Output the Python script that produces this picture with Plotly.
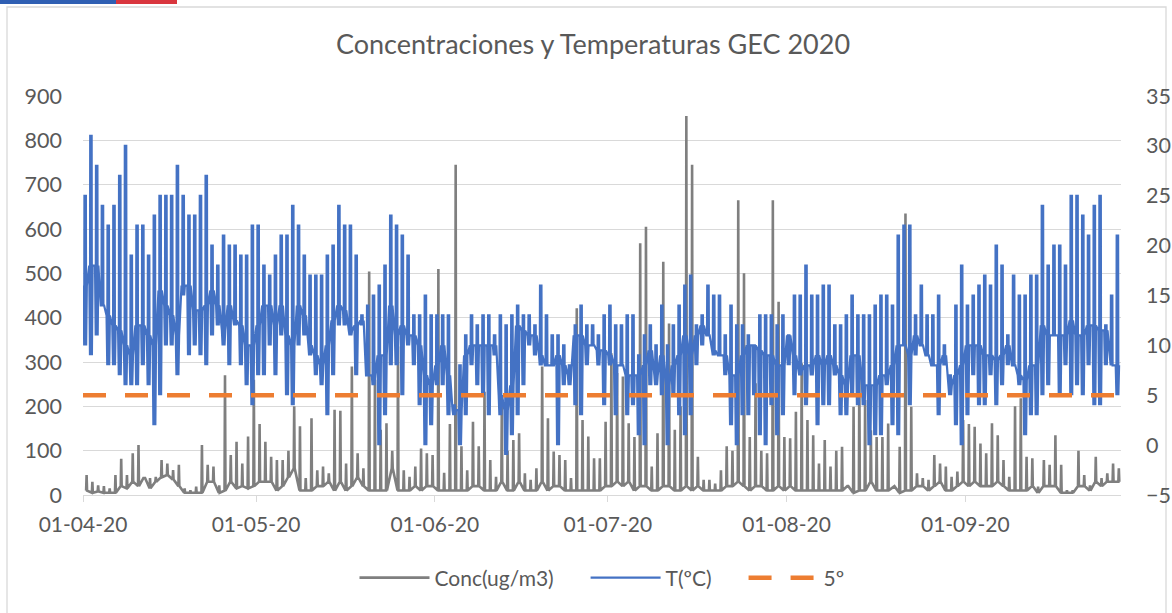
import pandas as pd
import plotly.graph_objects as go

# ---------------- data ----------------
start_date = "2020-04-01"
n_days = 180

# daily maximum temperature (ºC)
t_max = [25, 31, 28, 24, 22, 24, 27, 30, 19, 22, 22, 19, 23, 25, 25, 25, 28, 25, 23, 23, 25, 27, 20, 18, 21, 20, 20, 19, 19, 22,
         22, 18, 17, 19, 21, 21, 24, 22, 19, 17, 17, 17, 19, 20, 24, 22, 22, 19, 13, 14, 15, 16, 18, 23, 22, 21, 19, 13, 13, 15, 13,
         13, 13, 13, 4, 8, 11, 13, 12, 13, 13, 11, 13, 12, 13, 14, 13, 13, 12, 16, 13, 11, 11, 10, 8, 12, 14, 12, 12, 11, 13,
         14, 12, 12, 13, 13, 9, 11, 12, 10, 14, 10, 12, 14, 16, 17, 12, 13, 16, 15, 15, 11, 14, 12, 12, 11, 10, 13, 13, 13, 12, 13,
         11, 15, 15, 18, 15, 15, 16, 16, 12, 12, 13, 15, 13, 13, 13, 14, 15, 15, 14, 21, 22, 22, 13, 16, 13, 13, 15, 10, 7, 14, 18,
         14, 15, 16, 17, 16, 20, 18, 11, 17, 15, 15, 17, 17, 24, 18, 20, 20, 18, 25, 25, 23, 21, 24, 25, 12, 15, 21]

# daily minimum temperature (ºC)
t_min = [10, 9, 11, 14, 8, 8, 7, 6, 6, 6, 8, 6, 2, 5, 10, 10, 7, 15, 9, 10, 9, 8, 11, 12, 10, 8, 12, 8, 6, 4,
         7, 7, 10, 7, 11, 5, 4, 10, 11, 9, 7, 6, 3, 7, 12, 12, 11, 7, 12, 7, 6, 0, 3, 8, 8, 5, 10, 8, 4, 0, 2,
         6, 6, 3, 3, 0, 3, 8, 6, 5, 3, 9, 3, -1, 1, 3, 6, 10, 9, 8, 8, 8, 0, 6, 6, 4, 3, 8, 10, 8, 4,
         8, 3, 8, 3, 4, 1, 0, 6, 6, 5, 0, 5, 3, 1, 3, 8, 10, 11, 9, 9, 7, 2, 0, 3, 3, 5, 1, 0, 4, 1, 3,
         8, 5, 7, 4, 7, 2, 4, 4, 7, 3, 3, 5, 4, 4, 0, 1, 1, 6, 2, 1, 10, 4, 9, 10, 9, 8, 3, 8, 5, 2, 0,
         3, 7, 4, 4, 7, 4, 6, 8, 8, 6, 1, 3, 3, 5, 6, 11, 5, 8, 5, 6, 5, 8, 4, 4, 8, 8, 5]

# level the temperature rests at between the daily swings (ºC)
t_rest = [16, 18, 18, 14, 13, 12, 11.5, 10, 9, 12, 12, 11, 10, 15.5, 14, 13, 11, 16, 16, 13.5, 13.5, 14, 15.5, 14, 11.5, 14, 12.5, 12, 10, 10,
          12, 14, 14, 12, 14, 11, 10, 14, 13, 10, 9, 8, 10, 12.5, 14, 13.5, 11.5, 12, 12.5, 7, 7, 9, 9, 14, 11, 12, 11, 11, 10, 7, 6,
          8, 10, 7, 3.5, 3.5, 9, 10, 10, 10, 10, 10, 5, 3.5, 6, 12, 11.5, 11, 11, 9, 8, 8, 9, 8, 7, 11, 11, 10, 10, 9.5, 9.5,
          9, 8, 8, 7, 7, 7, 8, 9.5, 7, 9, 6, 8, 9, 11, 9, 11, 12, 11, 9.5, 9, 9, 7, 7, 9, 10, 10, 9.5, 9, 9, 8, 8,
          11, 9, 7.5, 8, 8, 9, 8, 9, 8, 7, 6, 9, 9, 6, 6, 6, 7, 7, 8, 10, 10, 9, 11, 10, 9, 8, 8, 9, 6, 7, 8,
          10, 10, 10, 9, 9, 8.5, 9, 10, 8, 7, 6.5, 8, 8, 12, 11, 11, 11, 11, 12.5, 11, 11, 12, 12, 11.5, 11.5, 8, 8]

# daily peak concentration (ug/m3)
conc_peak = [45, 30, 22, 20, 15, 45, 82, 45, 94, 113, 38, 38, 41, 79, 71, 56, 68, 15, 11, 19, 113, 68, 64, 22, 270, 90, 120, 71, 132, 260,
             160, 120, 86, 79, 79, 100, 200, 155, 38, 173, 56, 64, 49, 192, 190, 71, 290, 94, 60, 504, 260, 147, 162, 100, 335, 56, 41, 64, 105, 94, 90,
             510, 50, 160, 745, 110, 56, 165, 110, 233, 79, 41, 200, 100, 124, 139, 49, 34, 60, 290, 173, 98, 90, 79, 38, 421, 169, 132, 83, 83, 165,
             320, 275, 267, 162, 131, 568, 605, 64, 139, 526, 387, 147, 200, 855, 745, 86, 34, 34, 26, 56, 110, 100, 665, 500, 131, 252, 100, 94, 665, 436, 131,
             128, 188, 297, 169, 135, 71, 124, 64, 100, 109, 19, 199, 275, 214, 146, 131, 131, 161, 19, 109, 635, 199, 49, 38, 34, 90, 71, 64, 41, 53, 169,
             160, 154, 116, 94, 162, 135, 79, 41, 200, 218, 86, 83, 19, 79, 68, 135, 68, 11, 11, 100, 45, 22, 86, 38, 49, 71, 60]

# daily background concentration (ug/m3)
conc_low = [10, 5, 8, 5, 5, 5, 20, 15, 30, 20, 40, 15, 30, 40, 45, 35, 20, 5, 5, 5, 5, 30, 30, 5, 10, 30, 15, 20, 15, 20,
            30, 30, 30, 10, 20, 40, 60, 10, 10, 10, 20, 20, 30, 10, 30, 10, 20, 40, 20, 10, 10, 10, 10, 60, 10, 10, 10, 20, 10, 20, 20,
            10, 10, 10, 10, 10, 10, 20, 20, 10, 10, 10, 30, 10, 10, 30, 10, 10, 10, 30, 10, 20, 20, 10, 10, 10, 10, 10, 10, 10, 20,
            20, 30, 20, 30, 10, 20, 20, 10, 10, 20, 20, 10, 10, 20, 10, 20, 10, 10, 10, 10, 20, 20, 30, 20, 10, 20, 20, 10, 10, 20, 10,
            20, 10, 10, 10, 10, 10, 10, 10, 10, 10, 20, 5, 10, 10, 30, 10, 10, 10, 20, 5, 10, 10, 20, 20, 10, 20, 30, 10, 10, 20, 30,
            20, 30, 20, 20, 20, 30, 20, 10, 10, 10, 10, 20, 5, 20, 20, 20, 5, 5, 5, 20, 20, 10, 30, 20, 30, 30, 30]

threshold_value = 5  # "5º" reference line (ºC)

series_names = ["Conc(ug/m3)", "T(ºC)", "5º"]
x_tick_dates = ["2020-04-01", "2020-05-01", "2020-06-01", "2020-07-01", "2020-08-01", "2020-09-01"]
x_tick_labels = ["01-04-20", "01-05-20", "01-06-20", "01-07-20", "01-08-20", "01-09-20"]
x_range = ["2020-04-01", "2020-09-28"]

# ---------------- build traces ----------------
days = pd.date_range(start_date, periods=n_days, freq="D")
h = lambda n: pd.Timedelta(hours=n)

# each day: resting level -> morning low -> afternoon high (held) -> low -> resting level
t_x, t_y = [], []
for d, lo, hi, rest in zip(days, t_min, t_max, t_rest):
    t_x += [d + h(2), d + h(5), d + h(6), d + h(12), d + h(13), d + h(16)]
    t_y += [rest, lo, hi, hi, lo, rest]

c_x, c_y = [], []
for d, lo, pk in zip(days, conc_low, conc_peak):
    c_x += [d + h(13), d + h(15), d + h(17)]
    c_y += [lo, pk, lo]

font_family = "Lato, 'Open Sans', sans-serif"
txt_col = "#595959"
grid_col = "#d9d9d9"
pad = "\u00a0" * 5  # extra room after a legend entry, as in the reference

fig = go.Figure()
fig.add_trace(go.Scatter(x=c_x, y=c_y, mode="lines", name=series_names[0] + pad,
                         line=dict(color="#7f7f7f", width=2.6), yaxis="y"))
fig.add_trace(go.Scatter(x=t_x, y=t_y, mode="lines", name=series_names[1] + pad,
                         line=dict(color="#4472c4", width=2.2), yaxis="y2"))
fig.add_trace(go.Scatter(x=list(days) + [days[-1] + h(23)],
                         y=[threshold_value] * (n_days + 1), mode="lines", name=series_names[2],
                         line=dict(color="#ed7d31", width=4.5, dash="23px,19px"), yaxis="y2"))

# plot area in pixels: x 83..1121, y 96..495
PX0, PW, PY0, PH = 83, 1038, 495, 399
px = lambda v: (v - PX0) / PW
py = lambda v: (PY0 - v) / PH

shapes = [
    dict(type="rect", xref="paper", yref="paper", x0=px(7), x1=px(1166), y0=py(640), y1=py(7),
         line=dict(color=grid_col, width=1.3), fillcolor="rgba(0,0,0,0)", layer="below"),
    dict(type="rect", xref="paper", yref="paper", x0=px(0), x1=px(116), y0=py(4), y1=py(-2),
         line=dict(width=0), fillcolor="#2f5fb3"),
    dict(type="rect", xref="paper", yref="paper", x0=px(116), x1=px(177), y0=py(4), y1=py(-2),
         line=dict(width=0), fillcolor="#d9363e"),
]

fig.update_layout(
    width=1172, height=613,
    margin=dict(l=PX0, r=1172 - PX0 - PW, t=96, b=613 - PY0, autoexpand=False),
    paper_bgcolor="white", plot_bgcolor="white",
    font=dict(family=font_family, color=txt_col, size=21),
    title=dict(text="Concentraciones y Temperaturas GEC 2020", x=593 / 1172, xanchor="center",
               y=1 - 45 / 613, yanchor="middle", font=dict(size=27, color=txt_col, family=font_family)),
    xaxis=dict(type="date", range=x_range, tickvals=x_tick_dates, ticktext=x_tick_labels,
               showgrid=False, showline=True, linecolor=grid_col, linewidth=1.3,
               ticks="outside", ticklen=6, tickcolor=grid_col, tickwidth=1.3, automargin=False,
               ticklabelstandoff=5, zeroline=False, tickfont=dict(size=21)),
    yaxis=dict(range=[0, 900], dtick=100, showgrid=True, gridcolor=grid_col, gridwidth=1.3,
               zeroline=False, showline=False, ticklabelstandoff=20, automargin=False,
               tickfont=dict(size=21.5)),
    yaxis2=dict(range=[-5, 35], dtick=5, overlaying="y", side="right", showgrid=False,
                zeroline=False, showline=False, ticklabelstandoff=24, automargin=False,
                tickfont=dict(size=21.5)),
    legend=dict(orientation="h", x=0.5, xanchor="center", y=py(578), yanchor="middle",
                font=dict(size=21, color=txt_col), itemwidth=70, bgcolor="rgba(0,0,0,0)"),
    shapes=shapes,
    showlegend=True,
)

fig.write_html("out.html", config={"displayModeBar": False},
               post_script="document.body.style.margin='0';")
